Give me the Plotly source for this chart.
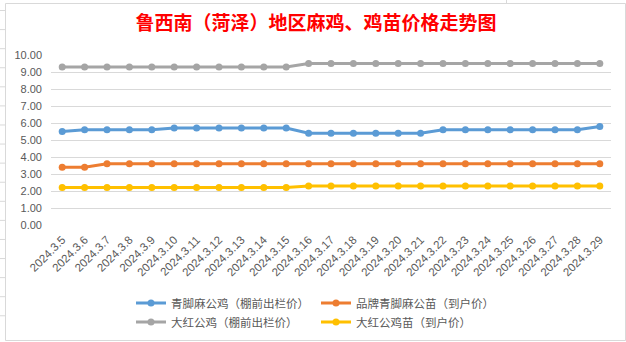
import plotly.graph_objects as go

dates = ["2024.3.%d" % d for d in range(5, 30)]
s_blue_name = "青脚麻公鸡（棚前出栏价）"
s_orange_name = "品牌青脚麻公苗（到户价）"
s_gray_name = "大红公鸡（棚前出栏价）"
s_yellow_name = "大红公鸡苗（到户价）"

blue_vals = [5.5, 5.6, 5.6, 5.6, 5.6, 5.7, 5.7, 5.7, 5.7, 5.7, 5.7,
             5.4, 5.4, 5.4, 5.4, 5.4, 5.4,
             5.6, 5.6, 5.6, 5.6, 5.6, 5.6, 5.6, 5.8]
orange_vals = [3.4, 3.4] + [3.6] * 23
gray_vals = [9.3] * 11 + [9.5] * 14
yellow_vals = [2.2] * 11 + [2.3] * 14

title_text = "鲁西南（菏泽）地区麻鸡、鸡苗价格走势图"
y_ticks = [0, 1, 2, 3, 4, 5, 6, 7, 8, 9, 10]

W, H = 626, 342
ML, MR, MT, MB = 51, 15, 55, 117
PW, PH = W - ML - MR, H - MT - MB


def px_x(p):
    return (p - ML) / PW


def px_y(p):
    return (H - MB - p) / PH


series = [
    (s_blue_name, blue_vals, "#5B9BD5", "legend"),
    (s_orange_name, orange_vals, "#ED7D31", "legend"),
    (s_gray_name, gray_vals, "#A5A5A5", "legend2"),
    (s_yellow_name, yellow_vals, "#FFC000", "legend2"),
]

fig = go.Figure()
for name, vals, color, lg in series:
    fig.add_trace(go.Scatter(
        x=dates, y=vals, name=name, mode="lines+markers",
        line=dict(color=color, width=3),
        marker=dict(color=color, size=7),
        legend=lg,
    ))

tick_font = dict(family="Liberation Sans, Arial, sans-serif", size=11, color="#595959")
xtick_font = dict(family="Liberation Sans, Arial, sans-serif", size=11.5, color="#595959")
leg_font = dict(family="Noto Sans CJK SC", size=11.5, color="#595959")

shapes = [
    dict(type="rect", xref="paper", yref="paper",
         x0=px_x(5.5), x1=px_x(625.5), y0=px_y(340.5), y1=px_y(3.5),
         line=dict(color="#D9D9D9", width=1), layer="below"),
    dict(type="line", xref="paper", yref="paper",
         x0=px_x(506.5), x1=px_x(506.5), y0=px_y(0), y1=px_y(3),
         line=dict(color="#D9D9D9", width=1)),
]
for k in range(17):
    yy = 10.5 + 19.08 * k
    shapes.append(dict(type="line", xref="paper", yref="paper",
                       x0=px_x(0), x1=px_x(5), y0=px_y(yy), y1=px_y(yy),
                       line=dict(color="#D9D9D9", width=1)))

fig.update_layout(
    width=W, height=H,
    margin=dict(l=ML, r=MR, t=MT, b=MB, pad=0, autoexpand=False),
    paper_bgcolor="white", plot_bgcolor="white",
    title=dict(text=title_text, x=px_x(316), xref="paper", xanchor="center",
               y=1 - 23.5 / H, yanchor="middle",
               font=dict(family="Noto Sans CJK SC", size=19, color="#FF0000", weight="bold")),
    xaxis=dict(type="category", range=[-0.5, len(dates) - 0.5], tickangle=-45,
               tickfont=xtick_font, showgrid=False, showline=False, ticks="",
               zeroline=False, ticklabelstandoff=5, automargin=False),
    yaxis=dict(range=[0, 10], tickvals=y_ticks, tickformat=".2f",
               tickfont=tick_font, showgrid=True, gridcolor="#D9D9D9", gridwidth=1,
               zeroline=False, showline=False, ticks="", ticklabelstandoff=8,
               automargin=False),
    legend=dict(orientation="h", x=px_x(131), xanchor="left", y=px_y(303), yanchor="middle",
                font=leg_font, entrywidth=140, entrywidthmode="pixels",
                bgcolor="rgba(0,0,0,0)", itemwidth=30),
    legend2=dict(orientation="h", x=px_x(131), xanchor="left", y=px_y(322), yanchor="middle",
                 font=leg_font, entrywidth=140, entrywidthmode="pixels",
                 bgcolor="rgba(0,0,0,0)", itemwidth=30),
    shapes=shapes,
    showlegend=True,
)

fig.write_html("out.html")
